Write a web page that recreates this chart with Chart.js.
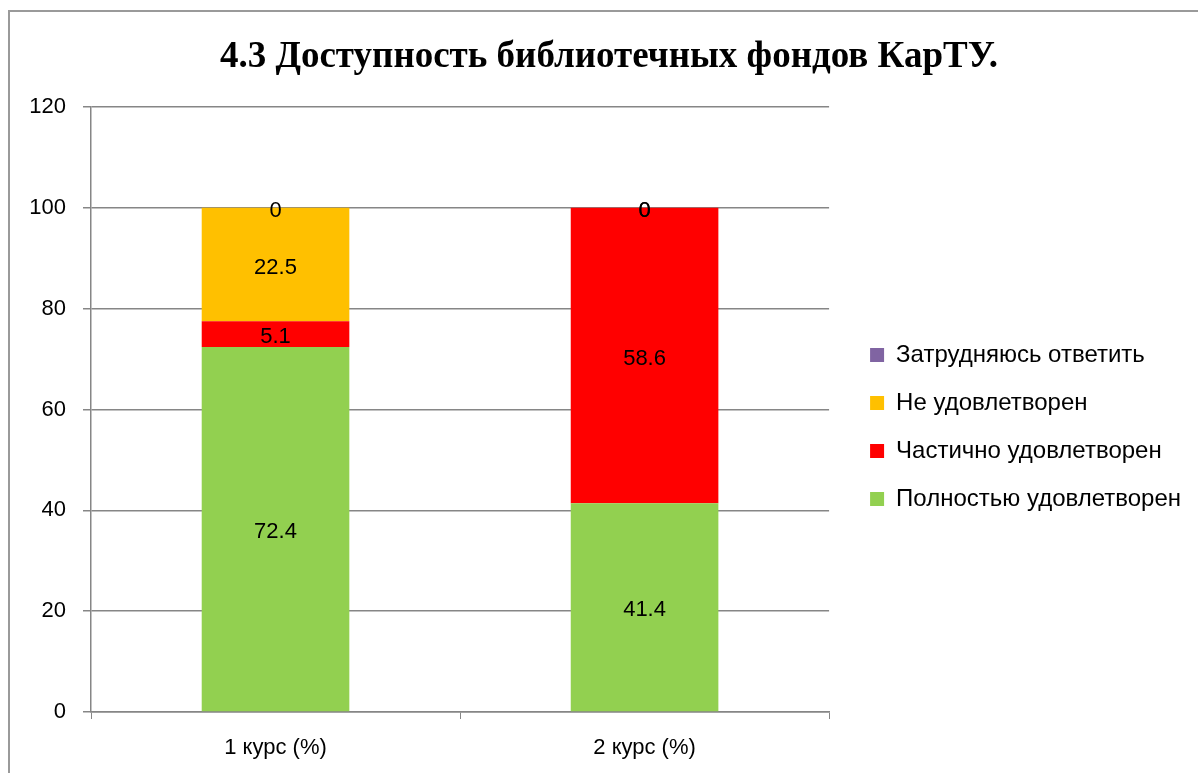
<!DOCTYPE html>
<html>
<head>
<meta charset="utf-8">
<script src="https://cdn.jsdelivr.net/npm/chart.js@4"></script>
<style>
  html, body { margin: 0; padding: 0; background: #fff; overflow: hidden; }
  #frame { position: absolute; left: 8px; top: 10px; width: 1300px; height: 900px; border: 2px solid #9a9a9a; box-sizing: border-box; }
  #wrap { position: absolute; left: 0; top: 0; width: 1198px; height: 773px; }
</style>
</head>
<body>
<div id="frame"></div>
<div id="wrap"><canvas id="chart"></canvas></div>
<script>
// Data
const categories = ['1 курс (%)', '2 курс (%)'];
const fullySatisfied = [72.4, 41.4];
const partlySatisfied = [5.1, 58.6];
const notSatisfied = [22.5, 0];
const hardToSay = [0, 0];
const seriesNames = ['Полностью удовлетворен', 'Частично удовлетворен', 'Не удовлетворен', 'Затрудняюсь ответить'];
const yMin = 0, yMax = 120, yStep = 20;

const textFont = 'Liberation Sans';
const gridColor = '#868686';
const legendSize = 24;
const legendPad = 24;
const legendBox = 14;
const gapWidth = 17;

// legend width -> paddings, so that the plot ends at x=829 and the title stays centred
const mctx = document.createElement('canvas').getContext('2d');
mctx.font = legendSize + 'px "' + textFont + '"';
const longest = Math.max(...seriesNames.map(s => mctx.measureText(s).width));
const legendWidth = legendPad + legendBox + legendSize / 2 + longest + 10;
const padRight = Math.max(0, Math.round(1198 - 829 - gapWidth - legendWidth));
const padLeft = Math.min(30, 20 + padRight);

// Write each value in the middle of its bar segment
const valueLabels = {
    id: 'valueLabels',
    afterDatasetsDraw(chart) {
        const ctx = chart.ctx;
        ctx.save();
        ctx.font = '22px "' + textFont + '"';
        ctx.fillStyle = '#000';
        ctx.textAlign = 'center';
        ctx.textBaseline = 'middle';
        chart.data.datasets.forEach((ds, i) => {
            chart.getDatasetMeta(i).data.forEach((bar, j) => {
                const p = bar.getProps(['x', 'y', 'base'], true);
                ctx.fillText(String(ds.data[j]), p.x, (p.y + p.base) / 2 + 3);
            });
        });
        ctx.restore();
    }
};

const ctx = document.getElementById('chart').getContext('2d');
new Chart(ctx, {
    type: 'bar',
    data: {
        labels: categories,
        datasets: [
            { label: seriesNames[0], data: fullySatisfied, backgroundColor: '#92D050' },
            { label: seriesNames[1], data: partlySatisfied, backgroundColor: '#FF0000' },
            { label: seriesNames[2], data: notSatisfied, backgroundColor: '#FFC000' },
            { label: seriesNames[3], data: hardToSay, backgroundColor: '#8064A2' }
        ]
    },
    options: {
        responsive: true,
        maintainAspectRatio: false,
        animation: false,
        devicePixelRatio: 1,
        layout: { padding: { left: padLeft, right: padRight, top: 0, bottom: 0 } },
        datasets: { bar: { barPercentage: 1, categoryPercentage: 0.4 } },
        plugins: {
            title: {
                display: true,
                text: '4.3 Доступность библиотечных фондов КарТУ.',
                color: '#000',
                font: { family: 'Liberation Serif', size: 37, weight: 'bold' },
                padding: { top: 35, bottom: 27.6 }
            },
            legend: {
                position: 'right',
                reverse: true,
                maxWidth: 500,
                title: { display: true, text: ' ', font: { size: 10 }, padding: 34.5 },
                labels: {
                    boxWidth: legendBox,
                    boxHeight: legendBox,
                    padding: legendPad,
                    color: '#000',
                    font: { family: textFont, size: legendSize }
                }
            },
            tooltip: { enabled: false }
        },
        scales: {
            x: {
                stacked: true,
                grid: { display: true, drawOnChartArea: false, drawTicks: true, tickLength: 7, color: gridColor, offset: true },
                border: { color: gridColor, width: 1.5 },
                ticks: { color: '#000', padding: 16, font: { family: textFont, size: 22 } },
                afterFit(scale) { scale.height = 61; }
            },
            y: {
                stacked: true,
                min: yMin,
                max: yMax,
                grid: { color: gridColor, lineWidth: 1.5, tickLength: 8 },
                border: { color: gridColor, width: 1.5 },
                ticks: { stepSize: yStep, color: '#000', padding: 17, font: { family: textFont, size: 22 } },
                afterFit(scale) { scale.width = 91 - padLeft; }
            },
            gap: {
                position: 'right',
                display: true,
                grid: { display: false },
                border: { display: false },
                ticks: { display: false },
                afterFit(scale) { scale.width = gapWidth; }
            }
        }
    },
    plugins: [valueLabels]
});
</script>
</body>
</html>
